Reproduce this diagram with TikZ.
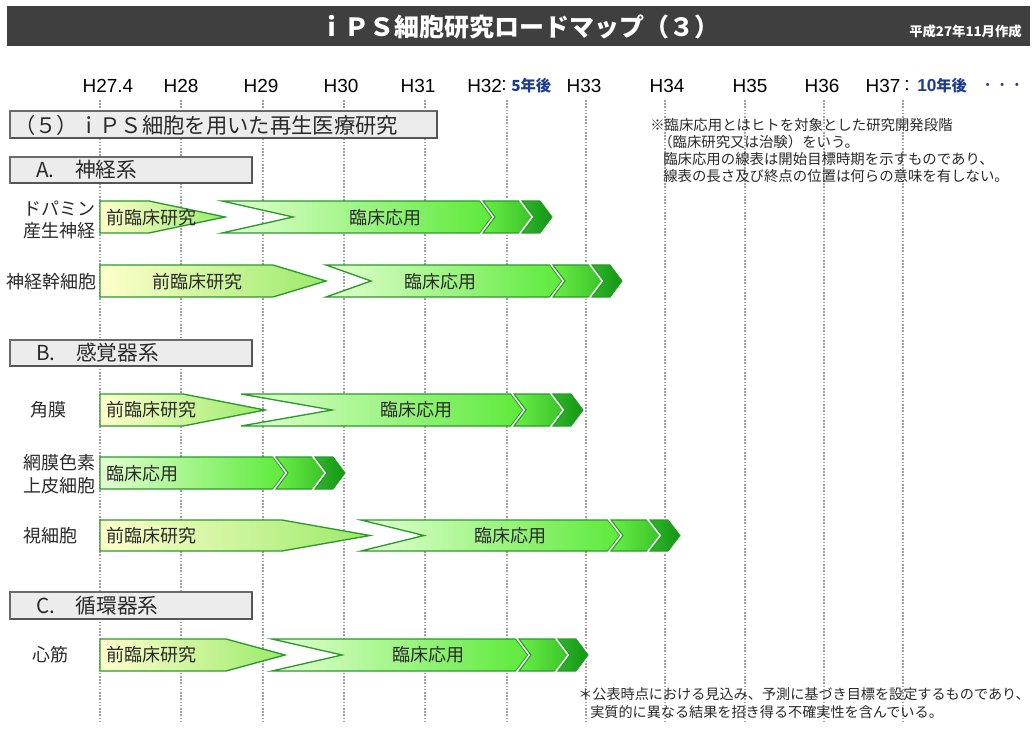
\documentclass[tikz,border=0pt]{standalone}
\usepackage{fontspec}
\setmainfont{Liberation Sans}
\newfontfamily\jp{Noto Sans CJK JP}
\newfontfamily\yr{Liberation Sans}
\definecolor{titlebg}{HTML}{3F3F3F}
\definecolor{txt}{HTML}{2A2A2A}
\definecolor{yrblue}{HTML}{1F3C8F}
\definecolor{preL}{HTML}{FFFFCC}
\definecolor{preR}{HTML}{9BEA6A}
\definecolor{clinL}{HTML}{E4FFD2}
\definecolor{clinR}{HTML}{5CEA3A}
\definecolor{chAL}{HTML}{6AEE45}
\definecolor{chAR}{HTML}{3AC42A}
\definecolor{chBL}{HTML}{2FB52A}
\definecolor{chBR}{HTML}{139713}
\definecolor{arrline}{HTML}{2A9A2A}
\definecolor{boxfill}{HTML}{ECECEC}
\definecolor{boxline}{HTML}{6A6A6A}
\newcommand\myPre[4]{% ytop ybot xr xt
  \path[pre] (100,#1) -- (#3,#1) -- (#4,{(#1+#2)/2}) -- (#3,#2) -- (100,#2) -- cycle;}
\newcommand\myClin[5]{% ytop ybot xl xn B
  \path[clin] (#3,#1) -- (#5,#1) -- ({#5+12},{(#1+#2)/2}) -- (#5,#2) -- (#3,#2) -- (#4,{(#1+#2)/2}) -- cycle;
  \path[chA] ({#5+3},#1) -- ({#5+40},#1) -- ({#5+52},{(#1+#2)/2}) -- ({#5+40},#2) -- ({#5+3},#2) -- ({#5+15},{(#1+#2)/2}) -- cycle;
  \path[chB] ({#5+42},#1) -- ({#5+60},#1) -- ({#5+72},{(#1+#2)/2}) -- ({#5+60},#2) -- ({#5+42},#2) -- ({#5+54},{(#1+#2)/2}) -- cycle;}
\tikzset{
  pre/.style={left color=preL, right color=preR, draw=arrline, line width=1pt},
  clin/.style={left color=clinL, right color=clinR, draw=arrline, line width=1pt},
  chA/.style={preaction={draw=white, line width=3.2pt}, left color=chAL, right color=chAR, draw=arrline, line width=0.8pt},
  chB/.style={preaction={draw=white, line width=3.2pt}, left color=chBL, right color=chBR, draw=arrline, line width=0.8pt},
  grid/.style={draw=gray!75, line width=0.8pt, dash pattern=on 1.2pt off 1.2pt},
  yrlbl/.style={font=\yr\fontsize{14.2}{16}\selectfont, text=black, inner sep=0pt},
  bluelbl/.style={font=\jp\bfseries\fontsize{11.5}{13}\selectfont, text=yrblue, inner sep=0pt},
  secbox/.style={fill=boxfill, draw=boxline, line width=0.8pt},
  sectxt/.style={font=\jp\fontsize{15.5}{17}\selectfont, text=txt, anchor=west, inner sep=0pt},
  rowlbl/.style={font=\jp\fontsize{13.5}{17}\selectfont, text=txt, inner sep=0pt, align=right},
  intxt/.style={font=\jp\fontsize{13.5}{15}\selectfont, text=txt, inner sep=0pt},
  note/.style={font=\jp\fontsize{10.8}{12}\selectfont, text=txt, anchor=west, inner sep=0pt},
  bnote/.style={font=\jp\fontsize{10.6}{12}\selectfont, text=txt, anchor=west, inner sep=0pt},
}
\begin{document}
\begin{tikzpicture}[x=0.75pt,y=-0.75pt]
\useasboundingbox (0,0) rectangle (1036,731);
\fill[white] (0,0) rectangle (1036,731);
% title bar
\fill[titlebg] (7,6) rectangle (1030,46);
\node[font=\jp\bfseries\fontsize{18.75}{20}\selectfont, text=white, inner sep=0pt] (title) at (519,27) {ｉＰＳ細胞研究ロードマップ（３）};
\node[font=\jp\bfseries\fontsize{10}{12}\selectfont, text=white, anchor=east, inner sep=0pt] (date) at (1022,31) {平成27年11月作成};
% grid lines
\foreach \gx [count=\i] in {100,181,263,344,425,507,586,665,745,824,903}{
  \coordinate (gt\i) at (\gx,100);
  \coordinate (gb\i) at (\gx,722);
  \draw[grid] (gt\i) -- (gb\i);
}
% year labels
\node[yrlbl] (y1) at (108,86) {H27.4};
\node[yrlbl] (y2) at (181,86) {H28};
\node[yrlbl] (y3) at (261,86) {H29};
\node[yrlbl] (y4) at (341,86) {H30};
\node[yrlbl] (y5) at (418,86) {H31};
\node[yrlbl, anchor=west] (y6) at (467,86) {H32};
\node[yrlbl, anchor=west] (c6) at (501,86) {:};
\node[bluelbl, anchor=west] (b6) at (511,86) {5年後};
\node[yrlbl] (y7) at (584,86) {H33};
\node[yrlbl] (y8) at (667,86) {H34};
\node[yrlbl] (y9) at (750,86) {H35};
\node[yrlbl] (y10) at (822,86) {H36};
\node[yrlbl] (y11) at (883,86) {H37};
\node[yrlbl, anchor=west] (c11) at (904,86) {:};
\node[font=\yr\bfseries\fontsize{13}{15}\selectfont, text=yrblue, anchor=west, inner sep=0pt] (b11a) at (917,86) {10};
\node[bluelbl, anchor=west] (b11) at (936,86) {年後};
\node[font=\jp\fontsize{11}{13}\selectfont, text=yrblue, anchor=west, inner sep=0pt] (dots) at (980,87) {・・・};
% heading
\path[secbox] (10,111) rectangle (437,138);
\draw[boxline!80!black, line width=1.2pt] (11,138) -- (437,138) -- (437,111);
\node[font=\jp\fontsize{16}{18}\selectfont, text=txt, anchor=west, inner sep=0pt] (head) at (14,125) {（５）ｉＰＳ細胞を用いた再生医療研究};
% section A
\path[secbox] (10,157) rectangle (252,183);
\draw[boxline!80!black, line width=1.2pt] (11,183) -- (252,183) -- (252,157);
\node[sectxt] (secA) at (36,170) {A.　神経系};
% section B
\path[secbox] (10,340) rectangle (252,366);
\draw[boxline!80!black, line width=1.2pt] (11,366) -- (252,366) -- (252,340);
\node[sectxt] (secB) at (36,353) {B.　感覚器系};
% section C
\path[secbox] (10,592) rectangle (252,619);
\draw[boxline!80!black, line width=1.2pt] (11,619) -- (252,619) -- (252,592);
\node[sectxt] (secC) at (36,606) {C.　循環器系};
% notes
\node[note] (n1) at (650,125) {※臨床応用とはヒトを対象とした研究開発段階};
\node[note] (n2) at (658,142) {（臨床研究又は治験）をいう。};
\node[note] (n3) at (663,159) {臨床応用の線表は開始目標時期を示すものであり、};
\node[note] (n4) at (663,176) {線表の長さ及び終点の位置は何らの意味を有しない。};
\node[bnote] (m1) at (578,694) {＊公表時点における見込み、予測に基づき目標を設定するものであり、};
\node[bnote] (m2) at (590,712) {実質的に異なる結果を招き得る不確実性を含んでいる。};
% row 1 dopamine
\myClin{201}{233}{222}{293}{480}
\myPre{201}{233}{149}{225}
\node[rowlbl, anchor=east] (r1) at (96,220) {ドパミン\\産生神経};
\node[intxt, anchor=west] (r1a) at (106,218) {前臨床研究};
\node[intxt] (r1b) at (385,218) {臨床応用};
% row 2 neural stem
\myClin{265}{297}{326}{371}{550}
\myPre{265}{297}{273}{326}
\node[rowlbl, anchor=east] (r2) at (97,282) {神経幹細胞};
\node[intxt] (r2a) at (197,282) {前臨床研究};
\node[intxt] (r2b) at (440,282) {臨床応用};
% row 3 cornea
\myClin{394}{426}{241}{332}{511}
\myPre{394}{426}{183}{265}
\node[rowlbl] (r3) at (49,410) {角膜};
\node[intxt, anchor=west] (r3a) at (106,410) {前臨床研究};
\node[intxt] (r3b) at (416,410) {臨床応用};
% row 4 RPE
\myClin{457}{489}{100}{100}{273}
\node[rowlbl, anchor=east] (r4) at (96,474) {網膜色素\\上皮細胞};
\node[intxt, anchor=west] (r4b) at (106,474) {臨床応用};
% row 5 photoreceptor
\myClin{520}{551}{361}{424}{608}
\myPre{520}{551}{282}{370}
\node[rowlbl] (r5) at (50,536) {視細胞};
\node[intxt, anchor=west] (r5a) at (106,536) {前臨床研究};
\node[intxt] (r5b) at (510,536) {臨床応用};
% row 6 myocardium
\myClin{639}{671}{272}{342}{516}
\myPre{639}{671}{226}{285}
\node[rowlbl] (r6) at (50,655) {心筋};
\node[intxt, anchor=west] (r6a) at (106,655) {前臨床研究};
\node[intxt] (r6b) at (428,655) {臨床応用};
\end{tikzpicture}
\end{document}
